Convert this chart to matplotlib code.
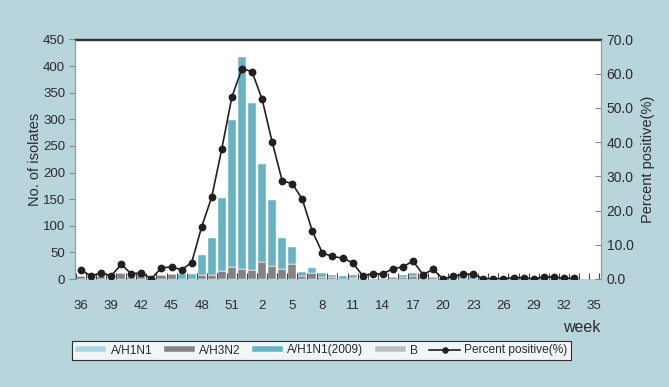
import matplotlib.pyplot as plt
import numpy as np

plt.rcParams['font.family'] = ['Liberation Sans', 'DejaVu Sans']

# weeks 36..52 of 2009, then 1..35 of 2010
weeks = list(range(36, 53)) + list(range(1, 36))

# isolates per week (stacked bars)
h1n1 = [0] * 52
h3n2 = [6, 0, 6, 0, 12, 4, 9, 0, 8, 9, 0, 0, 8, 8, 15, 23, 19, 17, 32, 25,
        19, 28, 6, 11, 3, 3, 0, 2, 0, 0, 0, 4, 4, 6, 5, 4, 0, 0, 0, 0,
        0, 0, 0, 0, 0, 0, 0, 0, 0, 0, 0, 0]
h1n1_2009 = [0, 0, 0, 0, 0, 0, 0, 0, 0, 0, 9, 9, 37, 69, 137, 276, 399, 313, 184, 124,
             58, 32, 7, 10, 8, 5, 6, 5, 0, 0, 0, 0, 3, 5, 0, 0, 0, 5, 5, 5,
             3, 0, 0, 0, 0, 0, 0, 0, 0, 0, 0, 0]
flu_b = [0] * 52

# percent positive, weeks 36..33
pct = [2.6, 0.9, 1.8, 0.9, 4.3, 1.5, 1.8, 0.1, 3.3, 3.5, 2.7, 4.8, 15.3, 24.0, 38.1,
       53.2, 61.5, 60.6, 52.6, 40.1, 28.7, 27.9, 23.3, 14.0, 7.6, 6.6, 6.1, 4.8, 1.0,
       1.5, 1.5, 3.0, 3.5, 5.3, 1.3, 2.8, 0.0, 0.8, 1.4, 1.4, 0.1, 0.1, 0.1, 0.4, 0.4,
       0.0, 0.6, 0.6, 0.2, 0.2]

bg = '#b9d5dc'
c_h1n1 = '#a9d6df'
c_h3n2 = '#828387'
c_2009 = '#68b3c1'
c_b = '#bcbcc2'
txt = '#2b2b2b'

fig = plt.figure(figsize=(6.69, 3.87), dpi=100, facecolor=bg)
ax1 = fig.add_axes([75 / 669, 1 - 279 / 387, 526 / 669, 239.5 / 387])
ax1.set_facecolor('white')

x = np.arange(len(weeks))
w = 0.8
bot = np.zeros(len(weeks))
for vals, col, lab in [(h3n2, c_h3n2, 'A/H3N2'), (h1n1, c_h1n1, 'A/H1N1'),
                       (flu_b, c_b, 'B'), (h1n1_2009, c_2009, 'A/H1N1(2009)')]:
    v = np.array(vals, dtype=float)
    ax1.bar(x, v, w, bottom=bot, color=col, edgecolor='white', linewidth=0.3, label=lab)
    bot += v

ax1.set_xlim(-0.6, 51.7)
ax1.set_ylim(0, 450)
ax1.set_yticks(np.arange(0, 451, 50))
ax1.set_xticks(x[::3])
ax1.set_xticklabels([str(k) for k in weeks[::3]])
ax1.set_xticks(np.arange(-0.5, 52, 1), minor=True)
ax1.tick_params(axis='x', which='major', length=0, pad=15, labelsize=9.5, labelcolor=txt)
ax1.tick_params(axis='x', which='minor', direction='in', length=4, width=0.8, color='#444444')
ax1.tick_params(axis='y', length=4, width=0.8, color='#888888', labelsize=9.5, labelcolor=txt, pad=3)
ax1.set_ylabel('No. of isolates', fontsize=10.5, color=txt, labelpad=1)

ax2 = ax1.twinx()
ax2.plot(x[:len(pct)], pct, color='#231f20', lw=1.2, marker='o', ms=4.6, label='Percent positive(%)')
ax2.set_ylim(0, 70)
ax2.set_yticks(np.arange(0, 71, 10))
ax2.set_yticklabels(['%.1f' % t for t in np.arange(0, 71, 10)])
ax2.tick_params(axis='y', direction='in', length=4, width=0.8, color='#888888',
                labelsize=10, labelcolor=txt, pad=4)
ax2.set_ylabel('Percent positive(%)', fontsize=10.5, color=txt, labelpad=5)

for a in (ax1, ax2):
    a.spines['top'].set_color('#333333')
    a.spines['top'].set_linewidth(1.0)
    a.spines['left'].set_color('#999999')
    a.spines['right'].set_color('#999999')
    a.spines['bottom'].set_visible(False)

fig.text(600 / 669, 1 - 327 / 387, 'week', fontsize=11.5, color=txt, ha='right', va='center')

h, l = ax1.get_legend_handles_labels()
hd = dict(zip(l, h))
order = ['A/H1N1', 'A/H3N2', 'A/H1N1(2009)', 'B']
handles = [hd[k] for k in order] + ax2.get_legend_handles_labels()[0]
labels = order + ['Percent positive(%)']
leg = fig.legend(handles, labels, loc='center', bbox_to_anchor=(321.5 / 669, 1 - 350.5 / 387),
                 ncol=5, fontsize=8.6, frameon=True, fancybox=False, edgecolor='black',
                 handlelength=2.6, handleheight=0.45, handletextpad=0.35, columnspacing=0.95,
                 borderpad=0.3, markerscale=0.8)
leg.get_frame().set_linewidth(0.8)
for t in leg.get_texts():
    t.set_color(txt)

fig.savefig('out.png', dpi=100, facecolor=bg)
